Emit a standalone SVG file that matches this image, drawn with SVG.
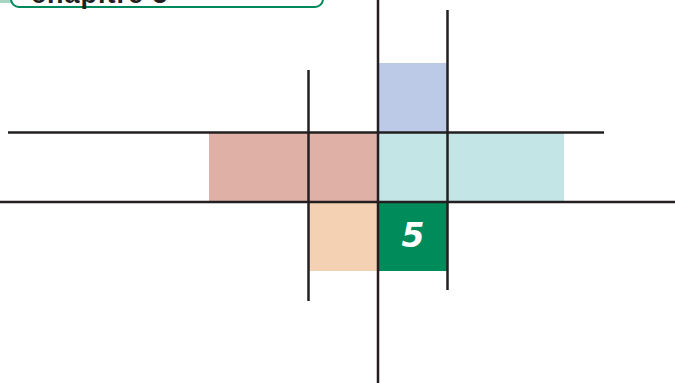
<svg xmlns="http://www.w3.org/2000/svg" width="675" height="383" viewBox="0 0 675 383">
<style>
.ln{stroke:#231f20;stroke-width:2.5;fill:none}
.lbl{font-family:"Liberation Sans",Arial,sans-serif;font-weight:bold}
.num{font-family:"DejaVu Sans",Verdana,sans-serif;font-weight:bold;font-style:italic}
</style>
<rect x="0" y="0" width="675" height="383" fill="#ffffff"/>
<g id="title">
<rect x="0" y="-2" width="12" height="5" fill="#a8d5bf"/>
<rect x="11" y="-30" width="312" height="37" rx="8" fill="#ffffff" stroke="#00895a" stroke-width="2"/>
<text class="lbl" x="31" y="3" font-size="27" fill="#231f20" letter-spacing="1">chapitre 5</text>
</g>
<g id="cells">
<rect id="blue" x="378" y="63" width="69" height="69" fill="#bccae8"/>
<rect id="red" x="209" y="132" width="169" height="70" fill="#dfb0a6"/>
<rect id="cyan" x="378" y="132" width="186" height="70" fill="#c3e5e5"/>
<rect id="peach" x="308" y="202" width="70" height="69" fill="#f3d1b2"/>
<g id="green">
<rect x="378" y="202" width="69" height="69" fill="#008c5a"/>
<text class="num" x="413" y="247" font-size="33" fill="#ffffff" text-anchor="middle">5</text>
</g>
</g>
<g id="connectors">
<line class="ln" x1="8" y1="132.5" x2="604" y2="132.5"/>
<line class="ln" x1="0" y1="202" x2="675" y2="202"/>
<line class="ln" x1="308.5" y1="70" x2="308.5" y2="301"/>
<line class="ln" x1="378" y1="0" x2="378" y2="383"/>
<line class="ln" x1="447.5" y1="10" x2="447.5" y2="290"/>
</g>
</svg>
